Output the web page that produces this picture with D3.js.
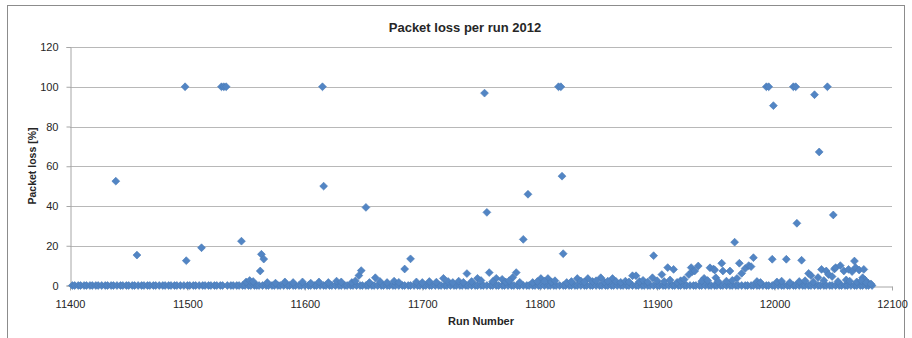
<!DOCTYPE html>
<html>
<head>
<meta charset="utf-8">
<script src="https://cdn.jsdelivr.net/npm/d3@7"></script>
<style>
  html, body { margin: 0; padding: 0; background: #fff; }
  svg { display: block; }
  text { font-family: "Liberation Sans", Arial, sans-serif; fill: #262626; }
</style>
</head>
<body>
<svg id="chart" width="912" height="338"></svg>
<script>
// Runs that completed with no packet loss
const zeroRuns = [
  11402, 11404, 11407, 11409, 11412, 11414, 11417, 11419, 11422, 11424, 11427, 11430, 11432, 11435, 11437,
  11440, 11443, 11445, 11448, 11450, 11453, 11455, 11458, 11461, 11463, 11466, 11468, 11471, 11473, 11476,
  11479, 11481, 11484, 11486, 11489, 11491, 11494, 11497, 11500, 11502, 11505, 11507, 11510, 11513, 11515,
  11518, 11520, 11523, 11525, 11528, 11530, 11534, 11537, 11539, 11542, 11544, 11547, 11549, 11552, 11554,
  11557, 11559, 11561, 11564, 11567, 11569, 11572, 11574, 11577, 11579, 11582, 11585, 11587, 11590, 11592,
  11595, 11597, 11600, 11603, 11605, 11608, 11610, 11613, 11616, 11618, 11621, 11623, 11626, 11629, 11631,
  11634, 11636, 11639, 11641, 11644, 11647, 11649, 11652, 11654, 11657, 11659, 11662, 11665, 11667, 11670,
  11672, 11675, 11677, 11680, 11683, 11685, 11688, 11690, 11693, 11696, 11698, 11701, 11703, 11706, 11708,
  11711, 11714, 11716, 11719, 11721, 11724, 11727, 11729, 11732, 11734, 11737, 11739, 11742, 11745, 11747,
  11750, 11752, 11755, 11758, 11760, 11763, 11765, 11768, 11770, 11773, 11776, 11778, 11781, 11783, 11786,
  11789, 11791, 11794, 11796, 11799, 11801, 11804, 11807, 11809, 11812, 11814, 11817, 11820, 11822, 11825,
  11827, 11830, 11832, 11835, 11838, 11840, 11843, 11845, 11848, 11851, 11853, 11856, 11858, 11861, 11863,
  11866, 11869, 11871, 11874, 11876, 11879, 11882, 11884, 11887, 11889, 11892, 11894, 11897, 11900, 11902,
  11905, 11907, 11910, 11913, 11915, 11918, 11920, 11923, 11925, 11928, 11931, 11933, 11936, 11938, 11941,
  11944, 11946, 11949, 11951, 11954, 11956, 11959, 11962, 11964, 11967, 11969, 11972, 11975, 11977, 11980,
  11982, 11985, 11987, 11990, 11993, 11995, 11998, 12000, 12003, 12006, 12008, 12011, 12013, 12016, 12018,
  12021, 12024, 12026, 12029, 12031, 12034, 12037, 12039, 12042, 12044, 12047, 12049, 12052, 12055, 12057,
  12060, 12062, 12065, 12068, 12070, 12073, 12075, 12078, 12080, 12083
];

// Runs with measurable packet loss: run number and loss in percent
const lossRuns = [
  11439, 11457, 11498, 11499, 11512, 11529, 11531, 11533, 11546, 11562, 11563, 11565,
  11615, 11616, 11646, 11648, 11652, 11660, 11685, 11690, 11718, 11738, 11747,
  11753, 11755, 11757, 11763, 11768, 11777, 11780, 11786, 11790, 11801, 11807,
  11816, 11818, 11819, 11820, 11832, 11841, 11852, 11862, 11879, 11882, 11896, 11897,
  11904, 11909, 11914, 11927, 11929, 11930, 11932, 11935, 11940, 11945, 11948, 11949,
  11950, 11955, 11956, 11962, 11966, 11968, 11970, 11972, 11975, 11978, 11980, 11982,
  11993, 11995, 11998, 11999, 12010, 12016, 12018, 12019, 12023, 12029, 12031, 12034,
  12037, 12038, 12040, 12044, 12045, 12046, 12049, 12050, 12051, 12052, 12056, 12059,
  12063, 12066, 12068, 12069, 12072, 12075, 12076, 12077, 12080,
  // low-loss runs
  11550, 11553, 11556, 11568, 11575, 11583, 11590, 11598, 11605, 11612, 11620, 11627,
  11631, 11640, 11643, 11655, 11664, 11670, 11676, 11680, 11695, 11700, 11706, 11712,
  11722, 11726, 11731, 11735, 11742, 11750, 11760, 11771, 11774, 11783, 11794, 11798,
  11804, 11810, 11813, 11823, 11827, 11835, 11838, 11845, 11848, 11855, 11858, 11865,
  11869, 11873, 11876, 11885, 11888, 11892, 11900, 11906, 11911, 11917, 11920, 11923,
  11938, 11943, 11952, 11959, 11964, 11985, 11988, 12002, 12006, 12013, 12021, 12026,
  12033, 12042, 12054, 12061, 12064, 12070, 12074, 12078, 12082
];
const lossValues = [
  52.5, 15.3, 100, 12.5, 19, 100, 100, 100, 22.3, 7.3, 15.7, 13.3,
  100, 50, 5, 7.5, 39.3, 3.9, 8.3, 13.4, 3.6, 6, 3.6,
  96.8, 36.8, 6.5, 3.6, 3.1, 4, 6.5, 23.2, 45.9, 3.5, 3.5,
  100, 100, 55, 16, 3.5, 3.5, 3.9, 3.5, 4.9, 4.9, 3.9, 15,
  5.5, 9, 8.1, 5.5, 9, 7, 7.3, 9.8, 3.6, 8.9, 8.3, 7.8,
  3.9, 11.2, 7.3, 7.3, 21.8, 3.6, 11.2, 6.1, 8.6, 10, 9.5, 14,
  100, 100, 13.2, 90.5, 13.2, 100, 100, 31.3, 12.7, 6.1, 5, 96,
  4, 67.2, 8.1, 7.3, 100, 5.5, 4.5, 35.5, 8.3, 9, 10, 7.3,
  8.1, 7, 12.3, 9, 7.8, 3.9, 8.1, 2.8, 1.1,
  1.8, 2.5, 2.0, 1.5, 1.2, 1.8, 1.5, 1.8, 1.2, 1.8, 1.5, 2.2,
  1.8, 1.5, 2.3, 1.5, 2.0, 1.5, 2.2, 1.6, 1.8, 1.5, 2.0, 1.7,
  2.0, 1.5, 2.2, 1.6, 2.0, 2.5, 2.0, 1.8, 2.4, 1.6, 1.5, 2.0,
  2.2, 1.8, 2.4, 1.5, 2.0, 2.3, 1.8, 2.0, 2.4, 1.8, 2.2, 2.0,
  1.6, 2.2, 1.8, 2.0, 2.6, 1.8, 2.4, 2.0, 2.8, 1.6, 2.4, 3.0,
  2.2, 2.5, 2.0, 2.2, 2.6, 2.0, 1.5, 1.8, 2.2, 1.5, 2.0, 2.4,
  1.8, 2.5, 2.0, 2.8, 2.2, 1.8, 2.4, 1.5, 0.8
];

const xTicks = [11400, 11500, 11600, 11700, 11800, 11900, 12000, 12100];
const yTicks = [0, 20, 40, 60, 80, 100, 120];

const points = zeroRuns.map(r => ({ run: r, loss: 0 }))
  .concat(lossRuns.map((r, i) => ({ run: r, loss: lossValues[i] })));

const svg = d3.select("#chart");
const plotLeft = 70, plotRight = 892, plotTop = 47, plotBottom = 285.5;

const x = d3.scaleLinear().domain([11400, 12100]).range([plotLeft, plotRight]);
const y = d3.scaleLinear().domain([0, 120]).range([plotBottom, plotTop]);

// chart frame
svg.append("rect")
  .attr("x", 7.5).attr("y", 5.5).attr("width", 897).attr("height", 345)
  .attr("fill", "#fff").attr("stroke", "#8c8c8c").attr("stroke-width", 1);

// title
svg.append("text")
  .attr("x", 465).attr("y", 32)
  .attr("text-anchor", "middle")
  .style("font-size", "13px").style("font-weight", "bold")
  .text("Packet loss per run 2012");

// horizontal gridlines
svg.append("g")
  .selectAll("line")
  .data(yTicks.filter(d => d > 0))
  .join("line")
  .attr("x1", plotLeft).attr("x2", plotRight)
  .attr("y1", d => Math.round(y(d)) + 0.5).attr("y2", d => Math.round(y(d)) + 0.5)
  .attr("stroke", "#b8b8b8").attr("stroke-width", 1);

// y axis
const yAxis = svg.append("g")
  .attr("transform", `translate(${plotLeft + 0.5},0)`)
  .call(d3.axisLeft(y).tickValues(yTicks).tickSize(4).tickPadding(8).tickFormat(d3.format("d")));
yAxis.select(".domain").attr("stroke", "#a6a6a6");
yAxis.selectAll(".tick line").attr("stroke", "#a6a6a6");
yAxis.selectAll(".tick text")
  .style("font-size", "11px").style("font-family", "Liberation Sans, Arial, sans-serif").attr("fill", "#262626");

// x axis
const xAxis = svg.append("g")
  .attr("transform", `translate(0,${Math.round(plotBottom) + 0.5})`)
  .call(d3.axisBottom(x).tickValues(xTicks).tickSize(4).tickSizeOuter(0).tickPadding(10).tickFormat(d3.format("d")));
xAxis.select(".domain").attr("stroke", "#a6a6a6");
xAxis.selectAll(".tick line").attr("stroke", "#a6a6a6");
xAxis.selectAll(".tick text")
  .style("font-size", "11px").style("font-family", "Liberation Sans, Arial, sans-serif").attr("fill", "#262626");

// axis titles
svg.append("text")
  .attr("transform", `translate(36,166) rotate(-90)`)
  .attr("text-anchor", "middle")
  .style("font-size", "10.5px").style("font-weight", "bold")
  .text("Packet loss [%]");

svg.append("text")
  .attr("x", (plotLeft + plotRight) / 2).attr("y", 325)
  .attr("text-anchor", "middle")
  .style("font-size", "11px").style("font-weight", "bold")
  .text("Run Number");

// diamond markers
const diamond = d3.symbol().type(d3.symbolSquare).size(31)();
svg.append("g")
  .selectAll("path")
  .data(points)
  .join("path")
  .attr("d", diamond)
  .attr("transform", d => `translate(${x(d.run)},${y(d.loss)}) rotate(45)`)
  .attr("fill", "#5285c4")
  .attr("stroke", "#4a7bb8")
  .attr("stroke-width", 0.6);
</script>
</body>
</html>
